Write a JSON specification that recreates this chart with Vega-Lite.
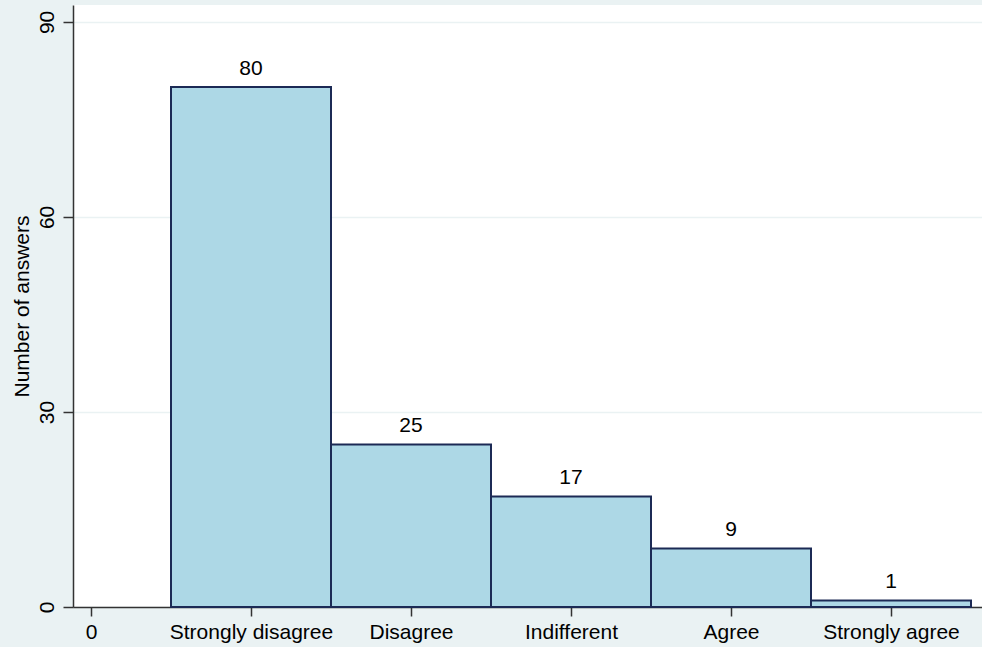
{
  "$schema": "https://vega.github.io/schema/vega-lite/v6.json",
  "width": 909,
  "height": 602,
  "autosize": "none",
  "padding": {"left": 73, "top": 5, "right": 0, "bottom": 40},
  "background": "#EAF2F3",
  "view": {"fill": "white", "stroke": null},
  "config": {"font": "Liberation Sans"},
  "data": {
    "values": [
      {"code": 1, "response": "Strongly disagree", "count": 80},
      {"code": 2, "response": "Disagree", "count": 25},
      {"code": 3, "response": "Indifferent", "count": 17},
      {"code": 4, "response": "Agree", "count": 9},
      {"code": 5, "response": "Strongly agree", "count": 1}
    ]
  },
  "transform": [
    {"calculate": "datum.code - 0.5", "as": "lo"},
    {"calculate": "datum.code + 0.5", "as": "hi"}
  ],
  "layer": [
    {
      "mark": {"type": "bar", "fill": "#ADD8E6", "stroke": "#1C2A55", "strokeWidth": 2},
      "encoding": {
        "x": {
          "field": "lo",
          "type": "quantitative",
          "scale": {"domain": [-0.1125, 5.56875], "nice": false, "zero": false},
          "axis": {
            "title": null,
            "values": [0, 1, 2, 3, 4, 5],
            "labelExpr": "['0','Strongly disagree','Disagree','Indifferent','Agree','Strongly agree'][datum.value]",
            "labelFontSize": 21,
            "labelColor": "#000000",
            "labelPadding": 5,
            "tickSize": 9,
            "tickColor": "#333333",
            "tickWidth": 1.5,
            "domainColor": "#333333",
            "domainWidth": 1.5,
            "grid": false
          }
        },
        "x2": {"field": "hi"},
        "y": {
          "field": "count",
          "type": "quantitative",
          "scale": {"domain": [0, 92.6], "nice": false},
          "axis": {
            "title": "Number of answers",
            "titleFontSize": 21,
            "titleFontWeight": "normal",
            "titleColor": "#000000",
            "titlePadding": 4,
            "values": [0, 30, 60, 90],
            "labelAngle": -90,
            "labelAlign": "center",
            "labelBaseline": "bottom",
            "labelFontSize": 21,
            "labelColor": "#000000",
            "labelPadding": 6,
            "tickSize": 10,
            "tickColor": "#333333",
            "tickWidth": 1.5,
            "domainColor": "#333333",
            "domainWidth": 1.5,
            "grid": true,
            "gridColor": "#EAF2F3",
            "gridWidth": 1.5
          }
        },
        "y2": {"datum": 0}
      }
    },
    {
      "mark": {"type": "text", "baseline": "alphabetic", "dy": -12, "fontSize": 21, "color": "#000000"},
      "encoding": {
        "x": {"field": "code", "type": "quantitative"},
        "y": {"field": "count", "type": "quantitative"},
        "text": {"field": "count", "type": "quantitative"}
      }
    }
  ]
}
